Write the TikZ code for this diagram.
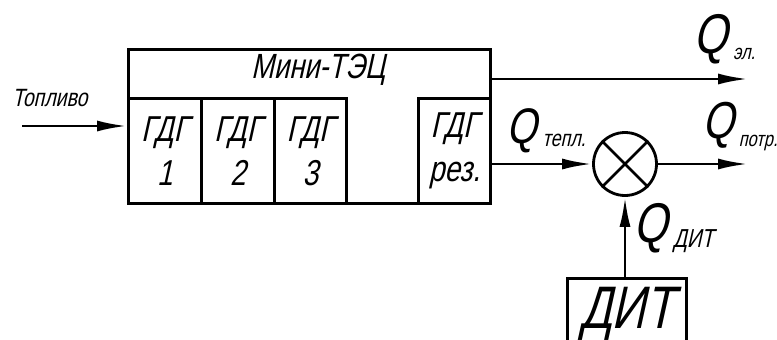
\documentclass[tikz,border=0pt]{standalone}
\usepackage{fontspec}
\newfontfamily\gost[FakeSlant=0.22,FakeStretch=0.78]{Liberation Sans}
\usetikzlibrary{arrows.meta}
\newcommand{\fs}[1]{\fontsize{#1}{1.25\dimexpr#1pt\relax}\selectfont}
\begin{document}
\begin{tikzpicture}[x=1pt,y=-1pt,line width=2.8pt,
  arr/.style={-{Latex[length=30pt,width=11pt]}},
  cell/.style={draw,anchor=north west,inner sep=0pt,minimum height=105pt,align=center,
    font=\gost\fontsize{36}{44}\selectfont},
  lbl/.style={inner sep=0pt,font=\gost},
  qq/.style={lbl,anchor=base west,font=\gost\fs{56}},
  sub/.style={lbl,anchor=base west,font=\gost\fs{23}}]
\clip (0,0) rectangle (777,340);
% main block
\node[draw,anchor=north west,minimum width=362pt,minimum height=154pt,inner sep=0pt] (mt) at (127,48) {};
\node[lbl,font=\gost\fs{35}] (mtl) at (318,70) {Мини-ТЭЦ};
\node[cell,minimum width=73pt] (g1) at (127,97) {ГДГ\\1};
\node[cell,minimum width=73pt] (g2) at (200,97) {ГДГ\\2};
\node[cell,minimum width=72pt] (g3) at (273,97) {ГДГ\\3};
\node[cell,minimum width=72pt] (gr) at (417,97) {ГДГ\\рез.};
% summing junction
\node[draw,circle,minimum size=63pt,inner sep=0pt] (sum) at (625,164) {};
\draw (sum.45) -- (sum.225) (sum.135) -- (sum.-45);
% DIT
\node[draw,anchor=north,minimum width=119pt,minimum height=90pt,inner sep=0pt] (dit) at (627,277) {};
\node[lbl,anchor=base,font=\gost\fs{60}] (ditl) at (627,328) {ДИТ};
% coordinates for free ends
\coordinate (fuel) at (22,126);
\coordinate (elout) at (748,79);
\coordinate (potrout) at (748,164);
% connectors
\draw[arr] (fuel) -- (fuel -| mt.west);
\draw[arr] (elout -| mt.east) -- (elout);
\draw[arr] (sum.west -| mt.east) -- (sum.west);
\draw[arr] (sum.east) -- (potrout);
\draw[arr] (sum.south |- dit.north) -- (sum.south);
% labels
\node[lbl,font=\gost\fs{25}] (top) at (50,98) {Топливо};
\node[qq] (qel) at (692,53) {Q};
\node[sub,font=\gost\fs{21}] (qels) at ([shift={(3,6)}]qel.base east) {эл.};
\node[qq,font=\gost\fs{50}] (qt) at (505,143) {Q};
\node[sub] (qts) at ([shift={(3,3)}]qt.base east) {тепл.};
\node[qq,font=\gost\fs{52}] (qp) at (701,138) {Q};
\node[sub,font=\gost\fs{21}] (qps) at ([shift={(2,8)}]qp.base east) {потр.};
\node[qq] (qd) at (632,242) {Q};
\node[sub,font=\gost\fs{26}] (qds) at ([shift={(3,5)}]qd.base east) {ДИТ};
\end{tikzpicture}
\end{document}
